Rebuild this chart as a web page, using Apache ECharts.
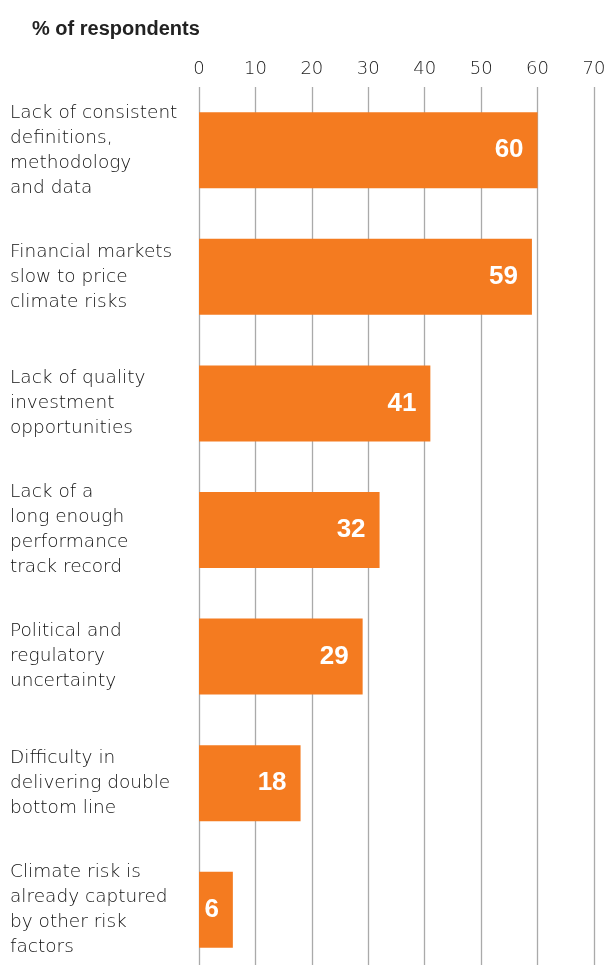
<!DOCTYPE html>
<html>
<head>
<meta charset="utf-8">
<script src="https://cdn.jsdelivr.net/npm/echarts@6/dist/echarts.min.js"></script>
<style>
  html, body { margin: 0; padding: 0; background: #fff; }
  #chart { width: 604px; height: 965px; }
</style>
</head>
<body>
<div id="chart"></div>
<script>
// Barriers to climate investing, share of respondents
const categories = [
  'Lack of consistent\ndefinitions,\nmethodology\nand data',
  'Financial markets\nslow to price\nclimate risks',
  'Lack of quality\ninvestment\nopportunities',
  'Lack of a\nlong enough\nperformance\ntrack record',
  'Political and\nregulatory\nuncertainty',
  'Difficulty in\ndelivering double\nbottom line',
  'Climate risk is\nalready captured\nby other risk\nfactors'
];
const values = [60, 59, 41, 32, 29, 18, 6];
const axisTicks = [0, 10, 20, 30, 40, 50, 60, 70];

const chart = echarts.init(document.getElementById('chart'));
chart.setOption({
  animation: false,
  backgroundColor: '#ffffff',
  title: {
    text: '% of respondents',
    left: 27,
    top: 14,
    textStyle: { fontFamily: 'Liberation Sans', fontSize: 20, fontWeight: 'bold', color: '#222' }
  },
  grid: {
    left: 199, right: 10, top: 87, height: 886,
    containLabel: false,
    outerBoundsMode: 'none'
  },
  xAxis: {
    type: 'value',
    position: 'top',
    min: axisTicks[0],
    max: axisTicks[axisTicks.length - 1],
    interval: 10,
    axisLine: { show: false },
    axisTick: { show: false },
    axisLabel: {
      margin: 9,
      fontFamily: 'DejaVu Sans',
      fontWeight: 300,
      fontSize: 18,
      color: '#222'
    },
    splitLine: { show: true, lineStyle: { color: '#aaaaaa', width: 1.3 } }
  },
  yAxis: {
    type: 'category',
    inverse: true,
    data: categories,
    axisLine: { show: false },
    axisTick: { show: false },
    axisLabel: {
      align: 'left',
      margin: 189,
      fontFamily: 'DejaVu Sans',
      fontWeight: 300,
      fontSize: 18.5,
      lineHeight: 25,
      color: '#111'
    }
  },
  series: [{
    type: 'bar',
    data: values,
    barWidth: 76,
    itemStyle: { color: '#F47B20' },
    label: {
      show: true,
      position: 'insideRight',
      distance: 14,
      color: '#ffffff',
      fontFamily: 'Liberation Sans',
      fontWeight: 'bold',
      fontSize: 26
    }
  }]
});
</script>
</body>
</html>
